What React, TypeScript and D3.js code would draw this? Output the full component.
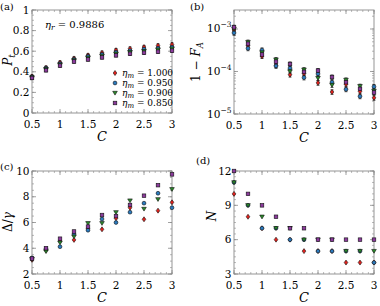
import React from "react";
import * as d3 from "d3";

const C_VALUES = [0.5, 0.75, 1, 1.25, 1.5, 1.75, 2, 2.25, 2.5, 2.75, 3];
const SERIES_NAMES = ["1.000", "0.950", "0.900", "0.850"];
const SERIES_COLORS = ["#e3211c", "#2b7bbf", "#2a8a2a", "#8b3a9c"];
const SERIES_SHAPES = ["diamond", "circle", "triangle", "square"];

// (a) P_t
const PA_1000 = [0.355, 0.44, 0.49, 0.53, 0.56, 0.585, 0.61, 0.625, 0.64, 0.655, 0.665];
const PA_0950 = [0.35, 0.435, 0.48, 0.52, 0.55, 0.57, 0.59, 0.605, 0.62, 0.63, 0.64];
const PA_0900 = [0.345, 0.425, 0.47, 0.51, 0.535, 0.555, 0.575, 0.59, 0.6, 0.615, 0.625];
const PA_0850 = [0.34, 0.415, 0.46, 0.5, 0.52, 0.54, 0.56, 0.575, 0.585, 0.595, 0.605];
const ERR_A = [0.016, 0.016, 0.016, 0.016, 0.016, 0.016, 0.016, 0.016, 0.016, 0.016, 0.016];

// (b) 1 - F_A
const PB_1000 = [9.5e-4, 4.1e-4, 2.3e-4, 1.4e-4, 8.4e-5, 9.0e-5, 5.4e-5, 3.3e-5, 5.0e-5, 3.4e-5, 2.4e-5];
const PB_0950 = [8.1e-4, 3.5e-4, 3.2e-4, 1.35e-4, 1.2e-4, 7.2e-5, 8.8e-5, 5.6e-5, 3.8e-5, 2.6e-5, 4.4e-5];
const PB_0900 = [1.0e-3, 4.9e-4, 2.8e-4, 1.9e-4, 1.0e-4, 1.1e-4, 7.0e-5, 4.8e-5, 6.3e-5, 4.5e-5, 3.5e-5];
const PB_0850 = [1.1e-3, 4.5e-4, 2.5e-4, 1.7e-4, 1.5e-4, 9.8e-5, 1.05e-4, 7.4e-5, 5.6e-5, 3.9e-5, 3.2e-5];
const ERR_B = [0.12, 0.12, 0.12, 0.12, 0.12, 0.12, 0.12, 0.12, 0.12, 0.12, 0.12];

// (c) Delta / gamma
const PC_1000 = [3.1, 3.85, 4.56, 4.65, 5.55, 5.47, 6.33, 7.15, 6.25, 6.92, 7.57];
const PC_0950 = [3.25, 3.95, 4.12, 5.1, 5.4, 6.27, 6.0, 6.8, 7.5, 8.27, 7.15];
const PC_0900 = [3.15, 3.75, 4.43, 4.9, 5.94, 5.94, 6.79, 7.7, 7.05, 7.8, 8.58];
const PC_0850 = [3.2, 4.0, 4.74, 5.3, 5.68, 6.58, 6.5, 7.36, 8.08, 8.9, 9.74];

// (d) N
const PD_1000 = [10, 8, 7, 6, 6, 5, 5, 5, 4, 4, 4];
const PD_0950 = [11, 9, 7, 7, 6, 6, 5, 5, 5, 5, 4];
const PD_0900 = [11, 9, 8, 7, 7, 6, 6, 6, 5, 5, 5];
const PD_0850 = [12, 10, 9, 8, 7, 7, 6, 6, 6, 6, 6];

const X_TICKS = [0.5, 1, 1.5, 2, 2.5, 3];
const A_TICKS = [0, 0.2, 0.4, 0.6, 0.8, 1];
const A_TICK_LABELS = ["0", "0.2", "0.4", "0.6", "0.8", "1"];
const B_TICKS = [1e-5, 1e-4, 1e-3];
const B_TICK_EXP = ["−5", "−4", "−3"];
const C_TICKS = [2, 4, 6, 8, 10];
const D_TICKS = [3, 6, 9, 12];

const FONT = "DejaVu Serif";
const FRAME = "#8a8a8a";

function Marker({ shape, x, y, color }: { shape: string; x: number; y: number; color: string }) {
  const sw = 0.6;
  const st = "#111";
  if (shape === "circle") return <circle cx={x} cy={y} r={1.9} fill={color} stroke={st} strokeWidth={sw} />;
  if (shape === "square") return <rect x={x - 1.8} y={y - 1.8} width={3.6} height={3.6} fill={color} stroke={st} strokeWidth={sw} />;
  if (shape === "triangle")
    return <path d={`M${x - 2.3},${y - 1.7} L${x + 2.3},${y - 1.7} L${x},${y + 2.1} Z`} fill={color} stroke={st} strokeWidth={sw} />;
  return <path d={`M${x},${y - 2.5} L${x + 1.8},${y} L${x},${y + 2.5} L${x - 1.8},${y} Z`} fill={color} stroke={st} strokeWidth={sw} />;
}

type PanelProps = {
  x0: number; x1: number; y0: number; y1: number;
  log?: boolean; yDomain: [number, number];
  yTicks: number[]; yLabels: (i: number, v: number) => React.ReactNode;
  yMinor: number[];
  data: number[][]; err?: number[]; errRel?: boolean;
  label: string; labelPos: [number, number];
  yTitle: React.ReactNode; yTitlePos: [number, number];
  children?: React.ReactNode;
};

const X_MINOR = d3.range(0.5, 3.0001, 0.1);

function Panel(p: PanelProps) {
  const xs = d3.scaleLinear().domain([0.5, 3]).range([p.x0, p.x1]);
  const ys = p.log
    ? d3.scaleLog().domain(p.yDomain).range([p.y1, p.y0])
    : d3.scaleLinear().domain(p.yDomain).range([p.y1, p.y0]);
  const maj = 4, mnr = 2;
  return (
    <g fontFamily={FONT}>
      <text x={p.labelPos[0]} y={p.labelPos[1]} fontSize={10}>{p.label}</text>
      {X_MINOR.map((v, i) => (
        <g key={"xm" + i} stroke={FRAME} strokeWidth={0.6}>
          <line x1={xs(v)} x2={xs(v)} y1={p.y1} y2={p.y1 - mnr} />
          <line x1={xs(v)} x2={xs(v)} y1={p.y0} y2={p.y0 + mnr} />
        </g>
      ))}
      {p.yMinor.map((v, i) => (
        <g key={"ym" + i} stroke={FRAME} strokeWidth={0.6}>
          <line x1={p.x0} x2={p.x0 + mnr} y1={ys(v)} y2={ys(v)} />
          <line x1={p.x1} x2={p.x1 - mnr} y1={ys(v)} y2={ys(v)} />
        </g>
      ))}
      {X_TICKS.map((v, i) => (
        <g key={"xt" + i}>
          <line x1={xs(v)} x2={xs(v)} y1={p.y1} y2={p.y1 - maj} stroke={FRAME} strokeWidth={0.8} />
          <line x1={xs(v)} x2={xs(v)} y1={p.y0} y2={p.y0 + maj} stroke={FRAME} strokeWidth={0.8} />
          <text x={xs(v)} y={p.y1 + 15} fontSize={10.5} textAnchor="middle">{String(v)}</text>
        </g>
      ))}
      {p.yTicks.map((v, i) => (
        <g key={"yt" + i}>
          <line x1={p.x0} x2={p.x0 + maj} y1={ys(v)} y2={ys(v)} stroke={FRAME} strokeWidth={0.8} />
          <line x1={p.x1} x2={p.x1 - maj} y1={ys(v)} y2={ys(v)} stroke={FRAME} strokeWidth={0.8} />
          <text x={p.x0 - 2.5} y={ys(v) + 3.5} fontSize={10.5} textAnchor="end">{p.yLabels(i, v)}</text>
        </g>
      ))}
      <rect x={p.x0} y={p.y0} width={p.x1 - p.x0} height={p.y1 - p.y0} fill="none" stroke={FRAME} strokeWidth={0.9} />
      {p.err && p.data.map((ser, si) => ser.map((v, j) => {
        const e = p.err![j];
        const lo = p.errRel ? v * (1 - e) : v - e;
        const hi = p.errRel ? v * (1 + e) : v + e;
        const x = xs(C_VALUES[j]);
        return (
          <g key={"e" + si + "-" + j} stroke="#111" strokeWidth={0.7}>
            <line x1={x} x2={x} y1={ys(lo)} y2={ys(hi)} />
            <line x1={x - 1.5} x2={x + 1.5} y1={ys(lo)} y2={ys(lo)} />
            <line x1={x - 1.5} x2={x + 1.5} y1={ys(hi)} y2={ys(hi)} />
          </g>
        );
      }))}
      {p.data.map((ser, si) => ser.map((v, j) => (
        <Marker key={"m" + si + "-" + j} shape={SERIES_SHAPES[si]} color={SERIES_COLORS[si]} x={xs(C_VALUES[j])} y={ys(v)} />
      )))}
      <text x={(p.x0 + p.x1) / 2} y={p.y1 + 28} fontSize={13} fontStyle="italic" textAnchor="middle">C</text>
      <text transform={`translate(${p.yTitlePos[0]},${p.yTitlePos[1]}) rotate(-90)`} fontSize={12} textAnchor="middle">{p.yTitle}</text>
      {p.children}
    </g>
  );
}

export default function App() {
  const aMinor = d3.range(0, 1.0001, 0.05);
  const bMinor: number[] = [];
  for (let e = -5; e <= -3; e++) for (let k = 1; k <= 9; k++) { const v = k * Math.pow(10, e); if (v <= Math.pow(10, -2.553)) bMinor.push(v); }
  const cMinor = d3.range(2, 10.0001, 0.5);
  const dMinor = d3.range(3, 12.0001, 0.5);
  const legendY = [73, 83, 93, 103];
  return (
    <svg width={380} height={306} style={{ position: "absolute", left: 0, top: 0, background: "#fff" }}>
      <Panel x0={32} x1={172} y0={10} y1={113} yDomain={[0, 1]} yTicks={A_TICKS}
        yLabels={(i) => A_TICK_LABELS[i]} yMinor={aMinor}
        data={[PA_1000, PA_0950, PA_0900, PA_0850]} err={ERR_A}
        label="(a)" labelPos={[0, 10]}
        yTitle={<tspan fontStyle="italic">P<tspan fontSize={8.5} dy={2.5}>t</tspan></tspan>} yTitlePos={[12, 60]}>
        <text x={45} y={28} fontSize={10}>
          <tspan fontStyle="italic">η</tspan><tspan fontStyle="italic" fontSize={7.5} dy={2}>r</tspan><tspan dy={-2}> = 0.9886</tspan>
        </text>
        {SERIES_NAMES.map((n, i) => (
          <g key={"lg" + i}>
            <Marker shape={SERIES_SHAPES[i]} color={SERIES_COLORS[i]} x={115} y={legendY[i]} />
            <text x={122} y={legendY[i] + 3} fontSize={9}>
              <tspan fontStyle="italic">η</tspan><tspan fontStyle="italic" fontSize={7} dy={2}>m</tspan><tspan dy={-2}> = {n}</tspan>
            </text>
          </g>
        ))}
      </Panel>
      <Panel x0={234} x1={374} y0={10} y1={114} log yDomain={[1e-5, Math.pow(10, -2.553)]} yTicks={B_TICKS}
        yLabels={(i) => (<>10<tspan fontSize={7.5} dy={-5}>{B_TICK_EXP[i]}</tspan></>)} yMinor={bMinor}
        data={[PB_1000, PB_0950, PB_0900, PB_0850]} err={ERR_B} errRel
        label="(b)" labelPos={[190, 10]}
        yTitle={<>1 − <tspan fontStyle="italic">F</tspan><tspan fontStyle="italic" fontSize={8.5} dy={2.5}>A</tspan></>} yTitlePos={[200, 62]} />
      <Panel x0={32} x1={172} y0={171} y1={274} yDomain={[2, 10]} yTicks={C_TICKS}
        yLabels={(i, v) => String(v)} yMinor={cMinor}
        data={[PC_1000, PC_0950, PC_0900, PC_0850]}
        label="(c)" labelPos={[0, 170]}
        yTitle={<>Δ/<tspan fontStyle="italic">γ</tspan></>} yTitlePos={[12, 222]} />
      <Panel x0={234} x1={374} y0={171} y1={274} yDomain={[3, 12]} yTicks={D_TICKS}
        yLabels={(i, v) => String(v)} yMinor={dMinor}
        data={[PD_1000, PD_0950, PD_0900, PD_0850]}
        label="(d)" labelPos={[196, 164]}
        yTitle={<tspan fontStyle="italic">N</tspan>} yTitlePos={[216, 216]} />
    </svg>
  );
}
